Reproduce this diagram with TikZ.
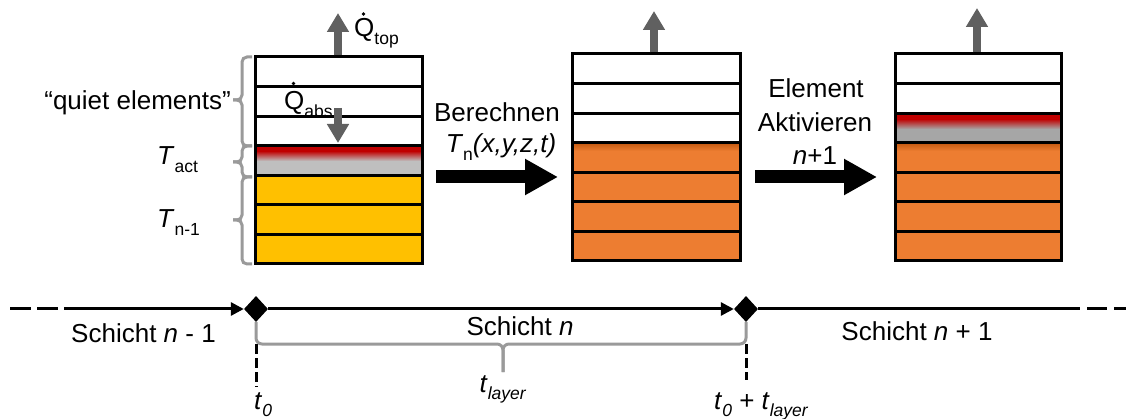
\documentclass[tikz,border=0pt]{standalone}
\usepackage{fontspec}
\setmainfont{Liberation Sans}
\usetikzlibrary{arrows.meta,shapes.geometric}

\definecolor{cyellow}{HTML}{FFC000}
\definecolor{corange}{HTML}{ED7D31}
\definecolor{cdkorange}{HTML}{C55A11}
\definecolor{cred}{HTML}{C00000}
\definecolor{cgrayL}{HTML}{BFBFBF}
\definecolor{cgrayR}{HTML}{A6A6A6}
\definecolor{cheat}{HTML}{606060}
\definecolor{cbrace}{HTML}{9A9A9A}

% lowered, smaller index text
\newcommand\sub[1]{\raisebox{-0.27em}{\fontsize{17.5}{17.5}\selectfont #1}}

% one column of seven layers: #1 left x, #2 right x, #3 top y, #4 fills
\newcommand\layerfills[4]{%
  \foreach \c [count=\i from 0] in {#4}{
    \fill[\c] (#1,{#3+\i*29.571}) rectangle (#2,{#3+(\i+1)*29.571});
  }%
}
\newcommand\layerlines[3]{%
  \foreach \i in {1,...,6}{
    \draw[cellline] (#1,{#3+\i*29.571}) -- (#2,{#3+\i*29.571});
  }%
}

\begin{document}
\begin{tikzpicture}[x=1pt,y=-1pt,
  font=\fontsize{26}{31}\selectfont,
  cellline/.style={draw=black,line width=3pt},
  stackbox/.style={draw=black,line width=3pt,inner sep=0pt,
    minimum width=167pt,minimum height=207pt},
  heat/.style={draw=cheat,line width=8pt,-{Triangle[length=19pt,width=21pt]}},
  blockarrow/.style={draw=black,line width=13pt,-{Triangle[length=33pt,width=34pt]}},
  brc/.style={draw=cbrace,line width=3pt,rounded corners=5pt},
  tline/.style={draw=black,line width=3pt},
  tipline/.style={tline,-{Triangle[length=13pt,width=13pt]}},
  dashline/.style={tline,dash pattern=on 21pt off 6pt},
  vdash/.style={tline,dash pattern=on 10pt off 4pt},
  milestone/.style={diamond,fill=black,inner sep=0pt,minimum width=24pt,minimum height=26pt},
  lbl/.style={inner sep=0pt},
  fluxdot/.style={fill=black}]

\useasboundingbox (0,0) rectangle (1126,419);

% ---------- layer stacks ----------
% left: before computing layer n
\layerfills{255}{422}{57}{white,white,white,cgrayL,cyellow,cyellow,cyellow}
\fill[cred] (255,146) rectangle (422,151);
\shade[top color=cred,bottom color=cgrayL] (255,151) rectangle (422,161);
\layerlines{255}{422}{57}
\node[stackbox] (stackL) at (338.5,160.5) {};

% middle: layer n computed
\layerfills{572}{740}{54}{white,white,white,corange,corange,corange,corange}
\shade[top color=cdkorange,bottom color=corange] (572,143) rectangle (740,151);
\layerlines{572}{740}{54}
\node[stackbox,minimum width=168pt] (stackM) at (656,157.5) {};

% right: element n+1 activated
\layerfills{895}{1061}{54}{white,white,cgrayR,corange,corange,corange,corange}
\fill[cred] (895,114) rectangle (1061,119);
\shade[top color=cred,bottom color=cgrayR] (895,119) rectangle (1061,129);
\shade[top color=cdkorange,bottom color=corange] (895,143) rectangle (1061,151);
\layerlines{895}{1061}{54}
\node[stackbox,minimum width=166pt] (stackR) at (978,157.5) {};

% ---------- heat flows ----------
\coordinate (qtopL) at (338,13);
\coordinate (qtopM) at (654,11);
\coordinate (qtopR) at (977,8);
\draw[heat] (stackL.north -| qtopL) -- (qtopL);
\draw[heat] (stackM.north -| qtopM) -- (qtopM);
\draw[heat] (stackR.north -| qtopR) -- (qtopR);
\coordinate (qabsS) at (338,108);
\coordinate (qabsE) at (338,143);
\draw[heat] (qabsS) -- (qabsE);

% heat flow symbols: Q with a time-derivative dot
\node[lbl,anchor=base west] (lqtop) at (354,37) {Q\sub{top}};
\node[lbl,anchor=base west] (lqabs) at (284,110) {Q\sub{abs}};
\fill[fluxdot] ([shift={(9.5,-23)}]lqtop.base west) circle (1.8pt);
\fill[fluxdot] ([shift={(9.5,-26.5)}]lqabs.base west) circle (1.9pt);

% ---------- braces at the left stack ----------
\draw[brc] (252,57) -- (242,57) -- (242,100) -- (233,100);
\draw[brc] (233,100) -- (242,100) -- (242,146) -- (252,146);
\draw[brc] (252,146) -- (242,146) -- (242,162) -- (233,162);
\draw[brc] (233,162) -- (242,162) -- (242,177) -- (252,177);
\draw[brc] (252,177) -- (242,177) -- (242,220) -- (233,220);
\draw[brc] (233,220) -- (242,220) -- (242,264) -- (252,264);

\node[lbl,anchor=base east] (lquiet) at (231,110) {“quiet elements”};
\node[lbl,anchor=base west] (ltact) at (157,165) {\textit{T}\sub{act}};
\node[lbl,anchor=base west] (ltprev) at (157,228) {\textit{T}\sub{n-1}};

% ---------- process steps ----------
\coordinate (a1s) at (436,177);
\coordinate (a1e) at (558,177);
\draw[blockarrow] (a1s) -- (a1e);
\node[lbl,anchor=base] (lcalc) at (497,122) {Berechnen};
\node[lbl,anchor=base] (lcalcT) at (501,153) {\textit{T}\sub{n}\textit{(x,y,z,t)}};

\coordinate (a2s) at (755,177);
\coordinate (a2e) at (877,177);
\draw[blockarrow] (a2s) -- (a2e);
\node[lbl,anchor=base] (lel) at (816,98) {Element};
\node[lbl,anchor=base] (lakt) at (815,132) {Aktivieren};
\node[lbl,anchor=base] (lnp) at (815,165) {\textit{n}+1};

% ---------- time line ----------
\node[milestone] (d0) at (256,309) {};
\node[milestone] (d1) at (746,309) {};
\coordinate (tA) at (10,309);
\coordinate (tB) at (80,309);
\coordinate (tC) at (1060,309);
\coordinate (tD) at (1126,309);
\draw[dashline] (tA) -- (tB);
\draw[tipline] (tB) -- (d0.west);
\draw[tipline] (d0.east) -- (d1.west);
\draw[tline] (d1.east) -- (tC);
\draw[tline,dash pattern=on 20pt off 7pt] (tC) -- (tD);

\coordinate (v0) at (256,387);
\coordinate (v1) at (746,380);
\draw[vdash] (256,344) -- (v0);
\draw[vdash] (746,344) -- (v1);

% layer time brace
\coordinate (bt) at (503,372);
\draw[brc,rounded corners=6pt] (d0.south) -- (256,344) -- (503,344) -- (bt);
\draw[brc,rounded corners=6pt] (bt) -- (503,344) -- (746,344) -- (d1.south);

\node[lbl,anchor=base] (lsm1) at (143.5,342) {Schicht \textit{n} - 1};
\node[lbl,anchor=base] (lsn) at (520,335) {Schicht \textit{n}};
\node[lbl,anchor=base] (lsp1) at (917,340) {Schicht \textit{n} + 1};

\node[lbl,anchor=base west] (lt0) at (254,409) {\textit{t}\sub{\textit{0}}};
\node[lbl,anchor=base] (ltl) at (503,392) {\textit{t}\sub{\textit{layer}}};
\node[lbl,anchor=base west] (lt1) at (714,409) {\textit{t}\sub{\textit{0}} + \textit{t}\sub{\textit{layer}}};

\end{tikzpicture}
\end{document}
